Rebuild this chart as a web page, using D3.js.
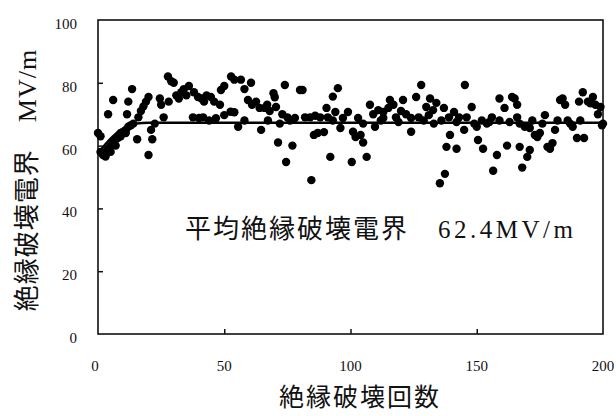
<!DOCTYPE html>
<html>
<head>
<meta charset="utf-8">
<script src="https://cdn.jsdelivr.net/npm/d3@7"></script>
<style>
  body { margin: 0; background: #fff; }
  svg { display: block; }
  .tick-label { font-family: "Liberation Serif", "DejaVu Serif", serif; font-size: 15px; fill: #111; }
  .jp { font-family: "Liberation Serif", "Noto Sans CJK JP", serif; fill: #111; }
</style>
</head>
<body>
<div id="chart"></div>
<script>
// 絶縁破壊回数 / 絶縁破壊電界 (MV/m)
const breakdownPoints = [
  [0,64],[1,63],[1,58],[2,57],[3,58],[3,56.5],[4,59],[5,60],[5,58],[6,61],[7,62],[7,60],
  [8,62.5],[9,64],[9,63],[10,64],[11,65],[11,64],[12,66],[13,66.5],[14,67],
  [4,70],[6,74.5],[11.5,70],[12,74],[13.5,78],[15.5,62],[21.5,62],[20,57],[21,65],
  [16,69],[17,71],[18,72.5],[19,74],[20,75.5],[22.5,67],[24.5,75],[26,69],[25,73],
  [27.7,82],[29,80.5],[30,80],[28,74],[31,76],[32,75],[33,77],[34,78],[35,76],[36,79],
  [37.6,69],[38,77],[39.6,75.5],[41,75],[42,74],[43,76],[44.7,75.5],[46,74],[48.3,73],
  [48.7,77.7],[50,79],[52.7,82],[54,81],[56.6,81],[58,78],[60.6,80],[40,68.8],[41.6,69],
  [44,68],[46.7,68.7],[50,69.7],[52.5,70.8],[54,70.6],[55.5,66],[58,68],[59.4,74.5],[61,73],
  [62.6,74],[64,72],[64.6,65],[66,72],[67,73],[67.3,68],[68,71],[69.5,76.7],[70,75.4],[70.5,72.3],
  [72,67],[73,70],[74,79.3],[74.5,54.8],[71.3,61],[75,69],[76,68],[77,60],[78,68.8],
  [80,77.7],[81,77.7],[82,69],[84.5,49],[84,69],[85.5,63.4],[86,69.5],[87,64],[88,69],
  [89.5,64.3],[90.5,72],[91,69],[92,56.4],[93,75.6],[93,68],[94,70.7],[95,78.3],[96,65.6],
  [97,68.8],[99,70.7],[100.5,54.8],[101,64.4],[102,62.7],[103,68.8],[104,63.4],[105,61],
  [105,67],[106.4,56.4],[107.7,73],[109,70],[109.7,66],[111,71.3],[112,68],[113,68.8],
  [113,70.7],[115,72],[115.6,74.5],[117,73],[118,69],[119,67.5],[120,71],[120.8,74.5],
  [122,70],[124,68.8],[124,64.4],[126,75.5],[127,69],[128,79.3],[129,68],[130,72.3],
  [131,69.7],[131.5,75],[132.7,71.3],[133,67],[134,73.6],[135.4,48],[136,68],[137,72],
  [137.4,51],[138,59.6],[139,69],[139.4,63.4],[141,70.7],[142,67.5],[142,59],[143,69],
  [145,65],[145.3,79.3],[146,69],[148,72.3],[149,67],[150,66],[150.5,61.8],[152,68],
  [152.5,59],[154,67],[155,67.5],[156,69],[156.5,52],[158,57],[159,68],[159,75],[161,72],
  [162,60],[163,67.5],[164,75.5],[165,75],[166,73],[166,69],[167,59.6],[167,67],[168,53],
  [169,66],[170,56.4],[171,65.6],[171,58.6],[172,68],[173,63.4],[174,62.7],[175,64],
  [176,67],[177,69.7],[178,59.6],[179,59],[180,60.8],[181,65],[182,68],[183,74.5],
  [184,75],[185,73],[186,68],[187,67],[188,66],[189.7,62.4],[190.5,74],[191,68],
  [192.5,62.4],[192,77],[194,74],[195,73.5],[196,75.5],[197,73],[198,70],[199,72.3],
  [199.6,66.5],[200,67]
];

// 近似曲線
const fitPoints = [[0,57.5],[3,60.5],[6,63],[9,65],[12,66.3],[15,67],[20,67.3],[200,67.3]];

const xTicks = [0, 50, 100, 150, 200];
const yTicks = [0, 20, 40, 60, 80, 100];

const WIDTH = 616;
const HEIGHT = 416;
const MARGIN = { top: 20, right: 13, bottom: 82, left: 98 };

const svg = d3.select("#chart").append("svg")
  .attr("width", WIDTH)
  .attr("height", HEIGHT);

const x = d3.scaleLinear().domain([0, 200]).range([MARGIN.left, WIDTH - MARGIN.right]);
const y = d3.scaleLinear().domain([0, 100]).range([HEIGHT - MARGIN.bottom, MARGIN.top]);

// 枠
svg.append("rect")
  .attr("x", x(0))
  .attr("y", y(100))
  .attr("width", x(200) - x(0))
  .attr("height", y(0) - y(100))
  .attr("fill", "none")
  .attr("stroke", "#111")
  .attr("stroke-width", 1.6);

// 目盛り (内向き)
svg.append("g")
  .attr("transform", `translate(${x(0)},0)`)
  .call(d3.axisRight(y).tickValues(yTicks.slice(1, -1)).tickSize(5).tickFormat(""))
  .call(g => g.select(".domain").remove())
  .call(g => g.selectAll("line").attr("stroke", "#111").attr("stroke-width", 1.5));

svg.append("g")
  .attr("transform", `translate(0,${y(0)})`)
  .call(d3.axisTop(x).tickValues(xTicks.slice(1, -1)).tickSize(5).tickFormat(""))
  .call(g => g.select(".domain").remove())
  .call(g => g.selectAll("line").attr("stroke", "#111").attr("stroke-width", 1.5));

// 目盛りラベル
svg.selectAll(".ylab")
  .data(yTicks)
  .enter()
  .append("text")
  .attr("class", "tick-label")
  .attr("x", 77)
  .attr("y", d => y(d) + 9)
  .attr("text-anchor", "end")
  .text(d => d);

svg.selectAll(".xlab")
  .data(xTicks)
  .enter()
  .append("text")
  .attr("class", "tick-label")
  .attr("x", d => x(d) - (d === 0 ? 3 : 0))
  .attr("y", 371)
  .attr("text-anchor", "middle")
  .text(d => d);

// データ点
svg.append("g")
  .selectAll("circle")
  .data(breakdownPoints)
  .enter()
  .append("circle")
  .attr("cx", d => x(d[0]))
  .attr("cy", d => y(d[1]))
  .attr("r", 4.2)
  .attr("fill", "#000");

// 近似線
const line = d3.line()
  .x(d => x(d[0]))
  .y(d => y(d[1]))
  .curve(d3.curveMonotoneX);

svg.append("path")
  .datum(fitPoints)
  .attr("d", line)
  .attr("fill", "none")
  .attr("stroke", "#000")
  .attr("stroke-width", 2.5);

// 注記
svg.append("text")
  .attr("class", "jp")
  .attr("x", 185)
  .attr("y", 238)
  .attr("font-size", 26)
  .attr("letter-spacing", 2)
  .text("平均絶縁破壊電界");

svg.append("text")
  .attr("class", "jp")
  .attr("x", 438)
  .attr("y", 238)
  .attr("font-size", 25)
  .attr("letter-spacing", 3.5)
  .text("62.4MV/m");

// 軸タイトル
svg.append("text")
  .attr("class", "jp")
  .attr("x", 360)
  .attr("y", 406)
  .attr("text-anchor", "middle")
  .attr("font-size", 25)
  .attr("letter-spacing", 2)
  .text("絶縁破壊回数");

svg.append("text")
  .attr("class", "jp")
  .attr("transform", "translate(36,180) rotate(-90)")
  .attr("text-anchor", "middle")
  .attr("font-size", 26)
  .attr("letter-spacing", 1)
  .text("絶縁破壊電界　MV/m");
</script>
</body>
</html>
